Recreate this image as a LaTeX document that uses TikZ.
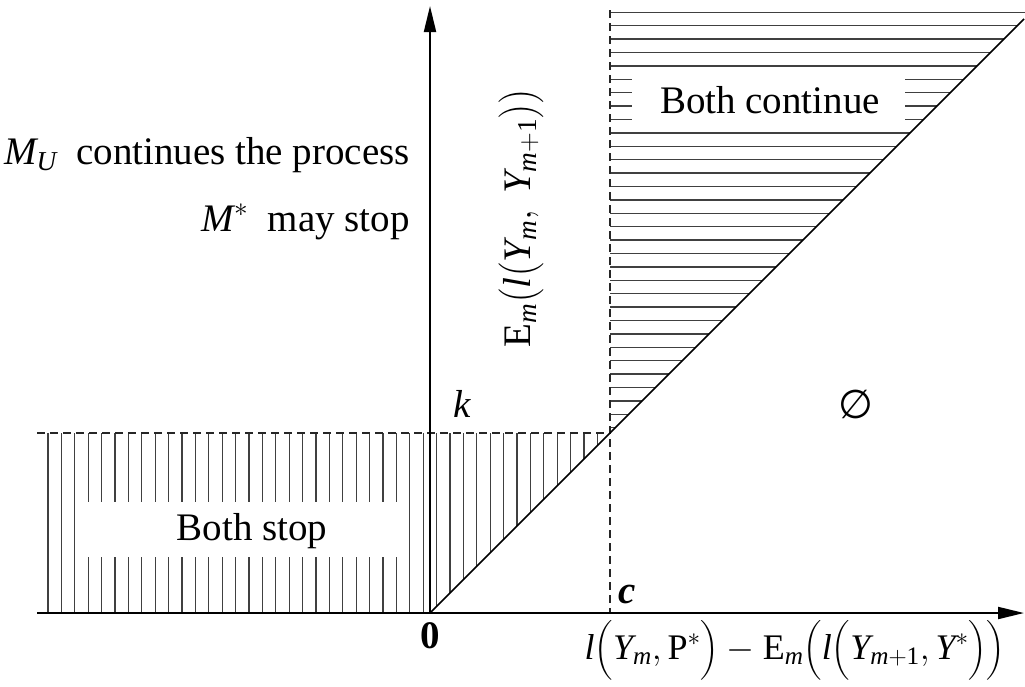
\documentclass[tikz,border=0pt]{standalone}
\usepackage{fix-cm}
\usepackage{amsmath}
\usepackage{fontspec}
\setmainfont{Liberation Serif}
\newfontfamily\djv{DejaVu Sans}
\usetikzlibrary{arrows.meta}
\newcommand{\ti}[1]{\textit{#1}}
\begin{document}
\begin{tikzpicture}[x=1pt,y=-1pt,
  hatch/.style={black!75, line width=1.3pt},
  axisline/.style={line width=2pt, -{Triangle[length=26pt,width=12pt]}},
  guide/.style={black!85, line width=1.4pt, dash pattern=on 8pt off 5pt},
  diag/.style={line width=1.6pt},
  lbl/.style={font=\fontsize{39}{44}\selectfont, inner sep=0pt}]
\useasboundingbox (0,0) rectangle (1025,686);

% key points
\coordinate (xs) at (37,613);
\coordinate (xe) at (1024,613);
\coordinate (O) at (430,613);
\coordinate (ye) at (430,6);
\coordinate (C) at (610,613);
\coordinate (Ctop) at (610,10);
\coordinate (Kl) at (37,433);
\coordinate (K) at (610,433);
\coordinate (D) at (1024,19);

% top region: horizontal hatching
\foreach \i in {0,...,31}{
  \pgfmathsetmacro\yy{12.3+13.4*\i}
  \pgfmathsetmacro\xx{min(1043-\yy,1025)}
  \ifnum\i<5
    \draw[hatch] (610,\yy) -- (\xx,\yy);
  \else\ifnum\i>8
    \draw[hatch] (610,\yy) -- (\xx,\yy);
  \else
    \draw[hatch] (610,\yy) -- (632,\yy);
    \draw[hatch] (905,\yy) -- (\xx,\yy);
  \fi\fi
}

% bottom-left region: vertical hatching
\foreach \k in {0,...,41}{
  \pgfmathsetmacro\xx{48+13.4*\k}
  \pgfmathsetmacro\yb{min(613,613-(\xx-430))}
  \ifnum\k<3
    \draw[hatch] (\xx,433) -- (\xx,\yb);
  \else\ifnum\k>26
    \draw[hatch] (\xx,433) -- (\xx,\yb);
  \else
    \draw[hatch] (\xx,433) -- (\xx,502);
    \draw[hatch] (\xx,557) -- (\xx,613);
  \fi\fi
}

% dashed guides
\draw[guide] (Kl) -- (K);
\draw[guide] (Ctop) -- (C);

% diagonal
\draw[diag] (O) -- (D);

% axes
\draw[axisline] (xs) -- (xe);
\draw[axisline] (O) -- (ye);

% labels
\node[lbl] (bc) at (770,100) {Both continue};
\node[lbl] (bs) at (252,531) {Both stop};
\node[lbl, anchor=east] (mu) at (410,155) {$\ti{M}_{\ti{U}}$\ \ continues the process};
\node[lbl, anchor=east] (ms) at (410,222) {$\ti{M}^{*}$\ \ may stop};
\node[lbl, rotate=90] (ylab) at (521,218)
  {$\textup{E}_{\ti{m}}\bigl(\ti{l}\bigl(\ti{Y}_{\ti{m}},\ \ti{Y}_{\ti{m}+\textup{1}}\bigr)\bigr)$};
\node[lbl, font=\fontsize{36}{40}\selectfont] (xlab) at (795,650)
  {$\ti{l}\Bigl(\ti{Y}_{\ti{m}},\textup{P}^{*}\Bigr)-\textup{E}_{\ti{m}}\Bigl(\ti{l}\Bigl(\ti{Y}_{\ti{m}+\textup{1}},\ti{Y}^{*}\Bigr)\Bigr)$};
\node[lbl] (klab) at (462,404) {\ti{k}};
\node[lbl, font=\fontsize{40}{44}\selectfont] (empty) at (856,404) {\djv ∅};
\node[lbl] (zero) at (430,636) {\textbf{0}};
\node[lbl] (clab) at (627,594) {\textbf{\textit{c}}};
\end{tikzpicture}
\end{document}
